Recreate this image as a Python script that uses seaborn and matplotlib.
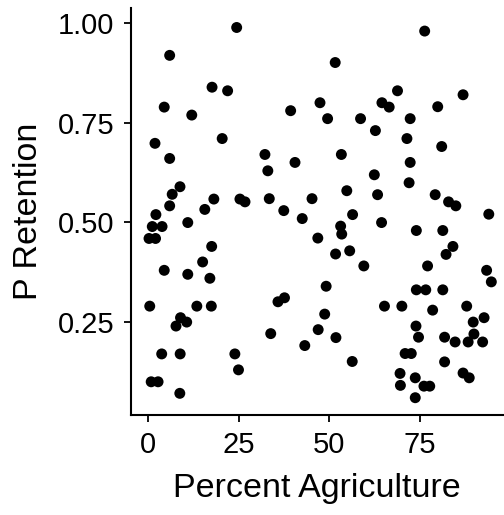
import matplotlib
matplotlib.use("Agg")
import matplotlib.pyplot as plt
import seaborn as sns
import pandas as pd

percent_agriculture = [
    24.4, 5.9, 17.6, 21.9, 4.4, 12.0, 1.85, 20.4, 5.9, 8.75,
    6.6, 5.9, 18.1, 25.3, 26.7, 15.6, 2.1, 1.1, 3.8, 10.9,
    0.2, 2.0, 17.5, 15.0, 4.4, 10.9, 17.0, 0.4, 13.4, 17.4,
    8.9, 10.6, 7.65, 3.7, 8.8, 23.9, 24.9, 0.8, 2.7, 8.7,
    51.6, 47.4, 39.3, 49.5, 58.6, 62.7, 32.2, 53.3, 33.0, 40.5,
    62.4, 33.4, 45.2, 54.8, 63.3, 37.4, 42.5, 56.4, 53.1, 53.4,
    46.8, 55.6, 51.7, 59.5, 49.1, 37.6, 35.8, 48.7, 46.9, 33.8,
    51.8, 43.2, 56.3, 76.3, 68.8, 86.9, 64.5, 66.5, 79.9, 72.3,
    71.4, 81.0, 72.3, 72.0, 79.2, 82.9, 84.9, 94.0, 64.4, 74.0,
    81.3, 84.1, 82.2, 77.1, 93.4, 94.7, 74.0, 76.6, 81.3, 65.2,
    70.0, 78.5, 87.9, 92.7, 89.7, 73.9, 89.9, 74.6, 81.8, 84.7,
    88.3, 92.3, 70.9, 72.6, 81.8, 69.5, 86.9, 88.6, 69.6, 73.7,
    76.1, 77.7, 73.7,
]
p_retention = [
    0.989, 0.919, 0.839, 0.830, 0.789, 0.769, 0.698, 0.710, 0.660, 0.589,
    0.570, 0.541, 0.558, 0.558, 0.551, 0.532, 0.519, 0.489, 0.489, 0.499,
    0.459, 0.459, 0.439, 0.400, 0.379, 0.369, 0.359, 0.289, 0.289, 0.289,
    0.260, 0.249, 0.239, 0.169, 0.169, 0.169, 0.129, 0.099, 0.099, 0.070,
    0.901, 0.800, 0.780, 0.760, 0.760, 0.730, 0.670, 0.670, 0.629, 0.650,
    0.619, 0.559, 0.559, 0.579, 0.569, 0.529, 0.509, 0.519, 0.490, 0.470,
    0.460, 0.428, 0.420, 0.390, 0.339, 0.310, 0.300, 0.269, 0.230, 0.220,
    0.210, 0.190, 0.150, 0.980, 0.830, 0.820, 0.800, 0.789, 0.790, 0.760,
    0.710, 0.690, 0.650, 0.599, 0.569, 0.551, 0.541, 0.520, 0.499, 0.479,
    0.479, 0.439, 0.419, 0.390, 0.379, 0.350, 0.330, 0.330, 0.330, 0.289,
    0.289, 0.279, 0.289, 0.260, 0.249, 0.239, 0.219, 0.211, 0.211, 0.199,
    0.199, 0.199, 0.170, 0.170, 0.149, 0.120, 0.121, 0.109, 0.090, 0.109,
    0.088, 0.088, 0.059,
]
x_ticks = [0, 25, 50, 75]
y_ticks = [0.25, 0.50, 0.75, 1.00]
y_tick_labels = ["0.25", "0.50", "0.75", "1.00"]

df = pd.DataFrame({"Percent Agriculture": percent_agriculture,
                   "P Retention": p_retention})

sns.set_theme(style="ticks")
plt.rcParams["font.family"] = ["Liberation Sans", "DejaVu Sans"]

fig = plt.figure(figsize=(5.04, 5.15), dpi=100)
ax = fig.add_axes([0.2593, 0.1942, 0.7407, 0.7903])
sns.scatterplot(data=df, x="Percent Agriculture", y="P Retention", ax=ax,
                color="black", s=62, edgecolor="none", linewidth=0)

ax.set_xlim(-4.86, 98.2)
ax.set_ylim(0.0156, 1.038)
ax.set_xticks(x_ticks)
ax.set_xticklabels([str(t) for t in x_ticks])
ax.set_yticks(y_ticks)
ax.set_yticklabels(y_tick_labels)
for side in ["top", "right"]:
    ax.spines[side].set_visible(False)
for side in ["left", "bottom"]:
    ax.spines[side].set_linewidth(1.5)
    ax.spines[side].set_color("black")
ax.tick_params(axis="both", length=5.3, width=1.3, color="black",
               labelsize=21, labelcolor="black", pad=6.5)
ax.set_xlabel("Percent Agriculture", fontsize=24.5, color="black", labelpad=10)
ax.set_ylabel("P Retention", fontsize=24.5, color="black", labelpad=10)

fig.savefig("out.png", dpi=100)
